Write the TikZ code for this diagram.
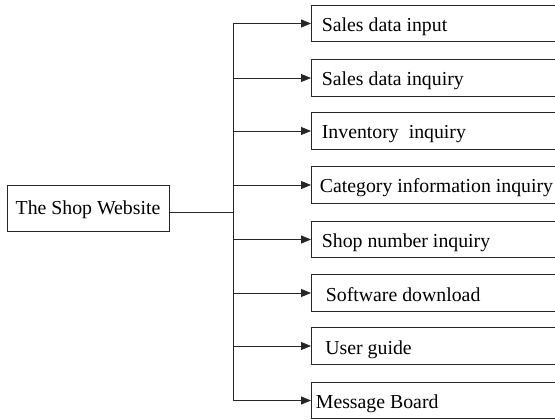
\documentclass[tikz,border=0pt]{standalone}
\usepackage{fontspec}
\setmainfont{Liberation Serif}
\usetikzlibrary{arrows.meta}
\begin{document}
\begin{tikzpicture}[x=1pt,y=-1pt,
  lbl/.style={font=\fontsize{19.8}{24}\selectfont},
  box/.style={lbl, draw=black!85, line width=0.8pt, rectangle, inner ysep=0pt,
    minimum height=36.5pt, text width=240pt, align=left,
    execute at begin node={\spaceskip=0pt\xspaceskip=0pt\relax},
    text height=20pt, text depth=4pt, anchor=west},
  mainbox/.style={lbl, draw=black!85, line width=0.8pt, rectangle, inner sep=0pt,
    minimum width=162pt, minimum height=46.7pt, text height=17pt, text depth=4pt},
  link/.style={draw=black!85, line width=0.8pt},
  arr/.style={link, -{Triangle[length=10pt,width=8pt]}}]
\clip (0,0) rectangle (555,420);
\useasboundingbox (0,0) rectangle (555,420);

\node[mainbox] (main) at (88,208.4) {The Shop Website};

\node[box, inner xsep=10.5pt] (b1) at (311,23.5)  {Sales data input};
\node[box, inner xsep=10.5pt] (b2) at (311,78)    {Sales data inquiry};
\node[box, inner xsep=10.5pt] (b3) at (311,131)   {Inventory\ \ inquiry};
\node[box, inner xsep=8.5pt]  (b4) at (311,185)   {Category information inquiry};
\node[box, inner xsep=10.5pt] (b5) at (311,239.5) {Shop number inquiry};
\node[box, inner xsep=14.5pt] (b6) at (311,293)   {Software download};
\node[box, inner xsep=14pt]   (b7) at (311,346)   {User guide};
\node[box, inner xsep=4.5pt]  (b8) at (311,400.5) {Message Board};

\coordinate (j) at (233,212.3);
\draw[link] (main.east |- j) -- (j);
\draw[link] (j |- b1.west) -- (j |- b8.west);
\foreach \i in {1,...,8}{
  \draw[arr] (j |- b\i.west) -- (b\i.west);
}
\end{tikzpicture}
\end{document}
